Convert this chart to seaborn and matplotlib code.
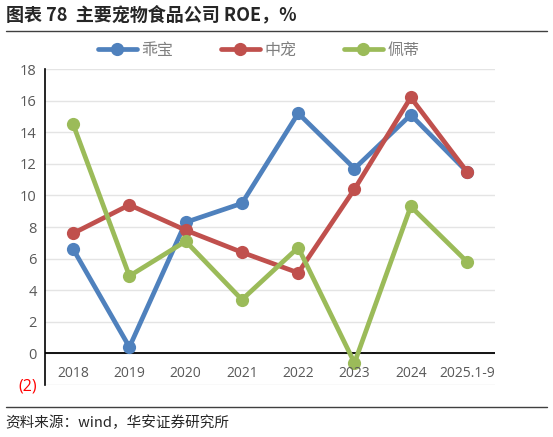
import pandas as pd
import numpy as np
import seaborn as sns
import matplotlib
matplotlib.use('Agg')
from matplotlib import pyplot as plt
from matplotlib.lines import Line2D

years = ['2018', '2019', '2020', '2021', '2022', '2023', '2024', '2025.1-9']
companies = ['乖宝', '中宠', '佩蒂']
guaibao = [6.6, 0.4, 8.3, 9.5, 15.2, 11.7, 15.1, 11.5]
zhongchong = [7.6, 9.4, 7.8, 6.4, 5.1, 10.4, 16.2, 11.5]
peidi = [14.5, 4.9, 7.1, 3.4, 6.7, -0.6, 9.3, 5.8]
colors = ['#4F81BD', '#C0504D', '#9BBB59']
y_ticks = list(range(-2, 20, 2))

sns.set_style('white')
plt.rcParams['font.family'] = ['Noto Sans CJK SC', 'DejaVu Sans']

df = pd.DataFrame({
    'year': years * 3,
    'company': np.repeat(companies, len(years)),
    'roe': guaibao + zhongchong + peidi,
})

fig = plt.figure(figsize=(5.53, 4.37), dpi=100)
ax = fig.add_axes([0.0814, 0.119, 0.814, 0.723])

sns.lineplot(data=df, x='year', y='roe', hue='company', palette=colors,
             marker='o', markersize=9.5, markeredgewidth=0, linewidth=3.4,
             sort=False, legend=False, ax=ax)

ax.set_xlim(-0.5, len(years) - 0.5)
ax.set_ylim(-2, 18)
ax.set_yticks(y_ticks)
ax.set_yticklabels(['(2)' if v < 0 else str(v) for v in y_ticks],
                   family=['Open Sans', 'DejaVu Sans'], fontsize=10.5, color='#595959')
ax.get_yticklabels()[0].set_color('red')
ax.get_yticklabels()[0].set_fontsize(11.5)
ax.tick_params(axis='y', length=0, pad=6)
ax.set_xticks([])
ax.set_xlabel('')
ax.set_ylabel('')
ax.grid(axis='y', color='#e4e4e4', linewidth=1)
ax.set_axisbelow(True)
ax.axhline(0, color='black', linewidth=1.3, zorder=1)
for side in ['top', 'right', 'bottom']:
    ax.spines[side].set_visible(False)
ax.spines['left'].set_color('black')
ax.spines['left'].set_linewidth(1.2)

for i, yr in enumerate(years):
    ax.text(i, -1.3, yr, ha='center', va='center', fontsize=10,
            color='#595959', family=['Open Sans', 'DejaVu Sans'])

handles = [Line2D([0], [0], color=c, linewidth=3.4, marker='o', markersize=9.5,
                  markeredgewidth=0) for c in colors]
fig.legend(handles, companies, loc='center', bbox_to_anchor=(0.468, 0.885),
           ncol=3, frameon=False, fontsize=11.5, handlelength=2.4,
           columnspacing=3.0, handletextpad=0.3, labelcolor='#7f7f7f')

fig.text(0.01, 0.965, '图表 78  主要宠物食品公司 ROE，%', fontsize=13,
         fontweight='bold', va='center', ha='left')
fig.add_artist(Line2D([0.01, 0.99], [0.928, 0.928], color='#404040', linewidth=1))
fig.add_artist(Line2D([0.01, 0.99], [0.068, 0.068], color='#404040', linewidth=1))
fig.text(0.01, 0.032, '资料来源：wind，华安证券研究所', fontsize=10.5,
         va='center', ha='left')

fig.savefig('out.png', dpi=100)
